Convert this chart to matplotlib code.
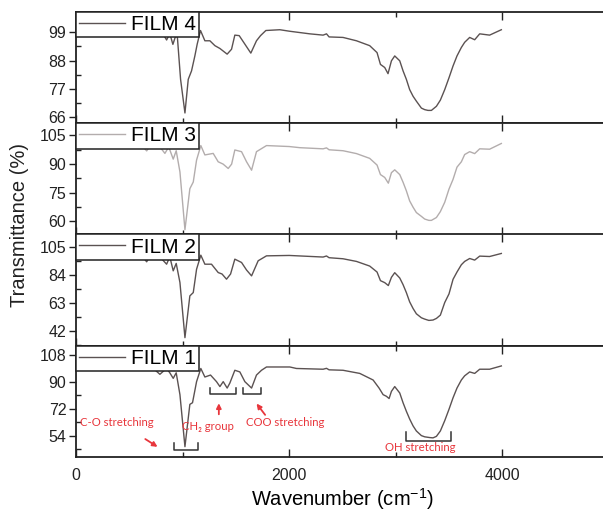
import matplotlib
matplotlib.use("Agg")
import matplotlib.pyplot as plt
from matplotlib.ticker import MultipleLocator

# ---------------- data ----------------
films = ["FILM 4", "FILM 3", "FILM 2", "FILM 1"]

wn4 = [400, 500, 600, 700, 800, 850, 880, 909, 930, 950, 981, 1022, 1053, 1084, 1115, 1137, 1168,
       1209, 1256, 1303, 1350, 1418, 1459, 1490, 1531, 1584, 1640, 1693, 1731, 1781, 1912, 2006,
       2193, 2318, 2350, 2374, 2505, 2631, 2755, 2824, 2856, 2896, 2927, 2959, 2990, 3037, 3068,
       3099, 3130, 3162, 3193, 3240, 3271, 3302, 3334, 3381, 3418, 3459, 3499, 3537, 3574, 3615,
       3646, 3693, 3740, 3787, 3880, 3990]
t4 = [100.5, 100.8, 100.6, 100.2, 99.5, 96.0, 98.5, 94.3, 97.0, 97.7, 80.7, 67.6, 80.7, 84.0, 89.8, 94.4, 99.7,
      95.7, 95.7, 93.8, 92.7, 90.5, 92.4, 97.9, 97.7, 94.4, 90.9, 95.7, 97.7, 99.7, 100.0, 99.4,
      98.4, 97.9, 98.4, 97.2, 97.0, 95.7, 93.8, 91.1, 86.5, 85.3, 82.9, 87.9, 89.8, 87.9, 84.0,
      80.7, 76.7, 74.1, 72.2, 69.5, 68.9, 68.6, 68.6, 70.2, 72.6, 76.7, 81.3, 85.9, 89.8, 93.1,
      95.1, 97.0, 96.1, 98.4, 97.9, 100.0]

wn3 = [400, 500, 600, 663, 700, 780, 834, 870, 912, 940, 975, 1022, 1068, 1100, 1131, 1171, 1209,
       1287, 1334, 1380, 1428, 1460, 1490, 1553, 1600, 1647, 1693, 1787, 2000, 2099, 2318, 2350,
       2374, 2505, 2631, 2755, 2824, 2856, 2896, 2930, 2959, 2990, 3037, 3068, 3099, 3130, 3162,
       3193, 3240, 3271, 3310, 3334, 3381, 3418, 3459, 3499, 3537, 3574, 3615, 3646, 3693, 3740,
       3787, 3880, 3990]
t3 = [101.5, 101.3, 101.0, 96.9, 100.0, 99.5, 95.6, 99.0, 92.6, 97.0, 85.9, 55.6, 77.1, 80.6, 92.1, 99.7, 94.8,
      95.6, 91.2, 90.0, 87.7, 90.0, 97.4, 96.5, 91.2, 86.8, 96.5, 99.7, 99.2, 98.6, 98.0, 98.5,
      97.5, 97.0, 95.5, 93.0, 89.5, 84.5, 83.0, 80.0, 85.5, 87.0, 84.5, 80.5, 76.0, 70.7, 67.4,
      64.6, 62.6, 61.2, 60.5, 60.5, 62.0, 65.1, 70.0, 76.9, 82.0, 88.4, 91.2, 95.0, 96.5, 95.5,
      98.0, 97.8, 100.8]

wn2 = [400, 500, 600, 663, 700, 780, 850, 880, 912, 940, 975, 1022, 1068, 1100, 1131, 1171, 1209,
       1271, 1334, 1370, 1412, 1450, 1490, 1553, 1600, 1647, 1709, 1787, 2000, 2318, 2350, 2374,
       2505, 2631, 2755, 2824, 2856, 2896, 2930, 2959, 2990, 3037, 3068, 3099, 3130, 3162, 3193,
       3240, 3271, 3310, 3349, 3381, 3418, 3459, 3499, 3537, 3574, 3615, 3646, 3693, 3740, 3787,
       3880, 3990]
t2 = [102.0, 101.5, 100.5, 94.2, 99.5, 98.5, 92.4, 98.0, 87.4, 93.0, 78.6, 37.0, 68.5, 71.0, 88.6, 99.2, 92.4,
      92.4, 86.1, 85.0, 81.1, 85.0, 96.2, 93.7, 88.0, 83.6, 95.0, 98.7, 99.0, 97.8, 98.6, 97.3,
      96.5, 94.5, 91.0, 86.5, 80.0, 78.5, 76.3, 82.5, 86.0, 82.0, 77.0, 71.0, 64.0, 59.0, 55.0,
      52.0, 51.0, 50.0, 50.3, 51.5, 54.0, 63.5, 70.0, 81.0, 86.5, 92.0, 94.5, 96.7, 95.5, 98.5,
      98.2, 100.5]

wn1 = [400, 500, 600, 700, 787, 850, 880, 912, 940, 975, 1022, 1068, 1093, 1131, 1171, 1209, 1262,
       1318, 1350, 1381, 1418, 1443, 1490, 1537, 1584, 1647, 1693, 1740, 1787, 2006, 2068, 2318,
       2350, 2374, 2505, 2662, 2787, 2843, 2881, 2912, 2937, 2959, 2990, 3037, 3068, 3099, 3130,
       3162, 3193, 3240, 3271, 3318, 3349, 3381, 3418, 3459, 3499, 3537, 3574, 3615, 3646, 3693,
       3740, 3787, 3880, 3990]
t1 = [101.0, 100.5, 100.0, 100.5, 95.0, 99.0, 96.0, 92.3, 96.0, 81.4, 46.6, 74.9, 76.0, 90.1, 98.9, 93.2, 94.5,
      90.1, 86.8, 90.1, 85.8, 89.1, 97.7, 96.6, 90.1, 85.8, 94.5, 97.7, 99.9, 99.9, 98.9, 98.4,
      99.0, 98.0, 97.7, 95.6, 91.2, 85.8, 81.4, 80.3, 78.8, 83.6, 86.8, 82.5, 76.0, 70.3, 65.1,
      60.5, 57.1, 54.0, 53.2, 52.7, 52.5, 53.5, 57.1, 64.0, 71.6, 79.3, 85.8, 91.2, 94.0, 96.6,
      95.6, 98.4, 98.4, 100.6]

wavenumbers = [wn4, wn3, wn2, wn1]
transmittance = [t4, t3, t2, t1]

y_limits = [(63.6, 106.9), (53.1, 111.4), (30.9, 114.8), (39.7, 114.1)]
y_major = [11, 15, 21, 18]
line_colors = ["#5b5252", "#b3adad", "#5b5252", "#5b5252"]

# annotations (bottom panel)
bracket_ranges = [(918, 1143, 44.2, 48.8), (1256, 1500, 82.1, 86.0),
                  (1565, 1734, 82.1, 86.0), (3093, 3515, 50.1, 56.6)]
labels = ["C-O stretching", "CH\u2082 group", "COO stretching", "OH stretching"]
label_pos = [(385, 62.7), (1237, 59.9), (1963, 62.7), (3233, 46.2)]
arrows = [((628, 52.7), (787, 45.5)), ((1340, 66.4), (1340, 77.5)), ((1790, 66.4), (1678, 76.9))]

# ---------------- figure ----------------
plt.rcParams["font.family"] = ["Liberation Sans", "DejaVu Sans"]
W, H = 603, 516
fig = plt.figure(figsize=(W / 100, H / 100), dpi=100)
fig.patch.set_facecolor("white")

left, right = 76 / W, 609 / W
top, bottom = 1 - 12 / H, 1 - 457 / H
ph = (top - bottom) / 4
red = "#e8363c"

axes = []
for i in range(4):
    ax = fig.add_axes([left, top - (i + 1) * ph, right - left, ph])
    axes.append(ax)
    ax.plot(wavenumbers[i], transmittance[i], color=line_colors[i], lw=1.0, label=films[i])
    ax.set_xlim(0, 5000)
    ax.set_ylim(*y_limits[i])
    ax.xaxis.set_major_locator(MultipleLocator(2000))
    ax.xaxis.set_minor_locator(MultipleLocator(1000))
    ax.yaxis.set_major_locator(MultipleLocator(y_major[i]))
    ax.yaxis.set_minor_locator(MultipleLocator(y_major[i] / 2))
    ax.tick_params(axis="both", which="both", direction="in", top=True, right=True,
                   width=1.0, labelsize=11.5, colors="#222222")
    ax.tick_params(which="major", length=6)
    ax.tick_params(which="minor", length=3.5)
    ax.tick_params(axis="y", which="major", direction="out", length=5, pad=2)
    for s in ax.spines.values():
        s.set_linewidth(1.3)
        s.set_color("#222222")
    if i < 3:
        ax.tick_params(axis="x", labelbottom=False)
    else:
        ax.tick_params(axis="x", pad=8)
    leg = ax.legend(loc="upper left", bbox_to_anchor=(0, 1), borderaxespad=0,
                    fancybox=False, framealpha=1, edgecolor="#222222", fontsize=15,
                    handlelength=2.2, handletextpad=0.3, borderpad=0.15)
    leg.get_frame().set_linewidth(1.1)

ax1 = axes[3]
for (x0, x1, yb, yt) in bracket_ranges:
    ax1.plot([x0, x0, x1, x1], [yt, yb, yb, yt], color="#333333", lw=1.1, clip_on=False)
for txt, (x, y) in zip(labels, label_pos):
    ax1.text(x, y, txt, color=red, fontsize=8.2, ha="center", va="center",
             family=["Lato", "DejaVu Sans"])
for (tail, head) in arrows:
    ax1.annotate("", xy=head, xytext=tail,
                 arrowprops=dict(arrowstyle="-|>", color=red, lw=1.3, mutation_scale=7))

ax1.set_xlabel("Wavenumber (cm$^{\\mathregular{-1}}$)", fontsize=14.5, labelpad=2)
fig.text(20 / W, 1 - 225 / H, "Transmittance (%)", rotation=90, fontsize=14.5,
         ha="center", va="center", color="#222222")

fig.savefig("out.png", dpi=100)
